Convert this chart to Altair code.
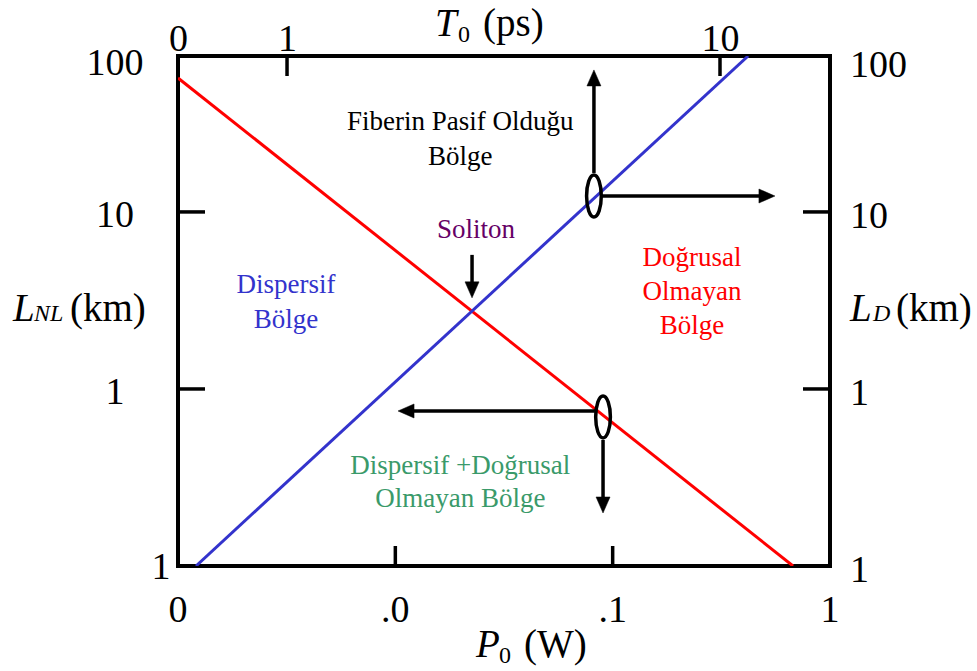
import json
import altair as alt
import pandas as pd

# ---------------- chart values ----------------
# L_NL (red) and L_D (blue) versus peak power P0
red_P0 = [0.001, 0.676]
red_L = [57.1, 0.1]
blue_P0 = [0.00121, 0.42]
blue_L = [0.1, 76.0]

# axis tick values / labels (as printed in the figure)
p0_tick_values = [0.001, 0.01, 0.1, 1.0]
p0_tick_labels = ["0", ".0", ".1", "1"]
l_tick_values = [0.1, 1.0, 10.0, 76.0]
l_tick_labels = ["1", "1", "10", "100"]
t0_tick_values = [0.56, 1.0, 10.0]
t0_tick_labels = ["0", "1", "10"]

p0_inner_ticks = [0.01, 0.1]
l_inner_ticks = [1.0, 10.0]
t0_inner_ticks = [1.0, 10.0]

# region annotations (anchored in data units)
region_text = ["Fiberin Pasif Olduğu", "Bölge", "Soliton", "Dispersif", "Bölge",
               "Doğrusal", "Olmayan", "Bölge", "Dispersif +Doğrusal", "Olmayan Bölge"]
region_P0 = [0.0199, 0.0199, 0.0235, 0.00314, 0.00314, 0.232, 0.232, 0.232, 0.0199, 0.0199]
region_L = [32.2, 20.4, 7.91, 3.87, 2.45, 5.50, 3.53, 2.27, 0.367, 0.239]
region_color = ["#000000", "#000000", "#660066", "#3333cc", "#3333cc",
                "#ff0000", "#ff0000", "#ff0000", "#3a9a6a", "#3a9a6a"]

# arrows: shaft start, shaft end, head tip, direction
arrow_P0_from = [0.0820, 0.0893, 0.0829, 0.0903, 0.02254]
arrow_L_from = [16.6, 12.3, 0.751, 0.515, 5.72]
arrow_P0_to = [0.0820, 0.502, 0.01144, 0.0903, 0.02254]
arrow_L_to = [55.7, 12.3, 0.751, 0.227, 3.72]
head_P0 = [0.0820, 0.558, 0.01029, 0.0903, 0.02254]
head_L = [63.4, 12.3, 0.751, 0.1993, 3.27]
head_angle = [0, 90, 270, 180, 180]

ellipse_P0 = [0.0820, 0.0903]
ellipse_L = [12.3, 0.695]

# ---------------- styling ----------------
FONT = "Liberation Serif, Times New Roman, serif"
TICK_FS = 38
TITLE_FS = 39
SUB_FS = 24
ANN_FS = 27

xscale = alt.Scale(type="log", domain=[0.001, 1.0])
yscale = alt.Scale(type="log", domain=[0.1, 76.0])
tscale = alt.Scale(type="log", domain=[0.56, 17.95])


def lab_expr(vals, labs):
    return f"{json.dumps(labs)}[indexof({json.dumps(vals)}, datum.value)]"


t_axis = alt.Axis(orient="top", values=t0_tick_values,
                  labelExpr=lab_expr(t0_tick_values, t0_tick_labels),
                  ticks=False, domain=False, grid=False, title=None,
                  labelFont=FONT, labelFontSize=TICK_FS, labelColor="black",
                  labelFlush=False, labelOverlap=False,
                  labelBaseline="alphabetic", labelPadding=6)


def X(field):
    return alt.X(field, type="quantitative", scale=xscale, axis=None)


def Y(field):
    return alt.Y(field, type="quantitative", scale=yscale, axis=None)


# ---------------- data frames ----------------
lines_df = pd.DataFrame({
    "series": ["LNL"] * len(red_P0) + ["LD"] * len(blue_P0),
    "P0": red_P0 + blue_P0,
    "L": red_L + blue_L,
})

lines = alt.Chart(lines_df).mark_line(strokeWidth=3, clip=True).encode(
    x=X("P0"),
    y=Y("L"),
    color=alt.Color("series:N", scale=alt.Scale(domain=["LNL", "LD"], range=["#ff0000", "#3333cc"]), legend=None),
    detail="series:N",
)

ytick_df = pd.DataFrame({"L": l_inner_ticks})
left_ticks = alt.Chart(ytick_df).mark_rule(color="black", strokeWidth=3.5).encode(
    y=Y("L"), x=alt.value(0), x2=alt.value(27))
right_ticks = alt.Chart(ytick_df).mark_rule(color="black", strokeWidth=3.5).encode(
    y=Y("L"), x=alt.value(625), x2=alt.value(652))
xtick_df = pd.DataFrame({"P0": p0_inner_ticks})
bottom_ticks = alt.Chart(xtick_df).mark_rule(color="black", strokeWidth=3.5).encode(
    x=X("P0"), y=alt.value(490), y2=alt.value(510))

# tick labels drawn through the scales
yl_df = pd.DataFrame({"L": l_tick_values, "lab": l_tick_labels})
xl_df = pd.DataFrame({"P0": p0_tick_values, "lab": p0_tick_labels})


def ylabels(flt, x, dy, align):
    return alt.Chart(yl_df).transform_filter(flt).mark_text(
        font=FONT, fontSize=TICK_FS, align=align, baseline="middle", dy=dy, color="black").encode(
        y=Y("L"), x=alt.value(x), text="lab:N")


left_labels = [
    ylabels("datum.L > 0.5 && datum.L < 50", -63, 4, "center"),
    ylabels("datum.L > 50", -63, 8, "center"),
    ylabels("datum.L < 0.5", -17, 2, "center"),
]
right_labels = [
    ylabels("datum.L < 50", 672, 5, "left"),
    ylabels("datum.L > 50", 672, 10, "left"),
]
bottom_labels = alt.Chart(xl_df).mark_text(
    font=FONT, fontSize=TICK_FS, align="center", baseline="alphabetic", color="black").encode(
    x=X("P0"), y=alt.value(566), text="lab:N")

ann_df = pd.DataFrame({"text": region_text, "P0": region_P0, "L": region_L, "color": region_color})
annotations = alt.Chart(ann_df).mark_text(font=FONT, fontSize=ANN_FS, baseline="middle", align="center").encode(
    x=X("P0"), y=Y("L"), text="text:N", color=alt.Color("color:N", scale=None))

arr_df = pd.DataFrame({"P0a": arrow_P0_from, "La": arrow_L_from, "P0b": arrow_P0_to, "Lb": arrow_L_to})
shafts = alt.Chart(arr_df).mark_rule(color="black", strokeWidth=3.5).encode(
    x=X("P0a"), y=Y("La"), x2="P0b", y2="Lb")

head_df = pd.DataFrame({"P0": head_P0, "L": head_L, "angle": head_angle})
HEAD_PATH = "M0,0 L0.875,2 L-0.875,2 Z"
heads = alt.Chart(head_df).mark_point(shape=HEAD_PATH, filled=True, fill="black", stroke="black",
                                      strokeWidth=0.5, size=256, opacity=1).encode(
    x=X("P0"), y=Y("L"), angle=alt.Angle("angle:Q", scale=None))

ELLIPSE_PATH = ("M0,-1 C0.1933,-1 0.35,-0.5523 0.35,0 C0.35,0.5523 0.1933,1 0,1 "
                "C-0.1933,1 -0.35,0.5523 -0.35,0 C-0.35,-0.5523 -0.1933,-1 0,-1 Z")
ell_df = pd.DataFrame({"P0": ellipse_P0, "L": ellipse_L})
ellipses = alt.Chart(ell_df).mark_point(shape=ELLIPSE_PATH, filled=False, stroke="black",
                                        strokeWidth=3.5, size=1764, opacity=1).encode(
    x=X("P0"), y=Y("L"))


def txt(s, x, y, size=TITLE_FS, style="normal", align="left"):
    return alt.Chart(pd.DataFrame({"t": [s]})).mark_text(
        font=FONT, fontSize=size, fontStyle=style, align=align, baseline="alphabetic",
        color="black").encode(text="t:N", x=alt.value(x), y=alt.value(y))


titles = [
    # left: L_NL (km)
    txt("L", -165, 265, style="italic"),
    txt("NL", -144, 265, size=SUB_FS, style="italic"),
    txt("(km)", -108, 265),
    # right: L_D (km)
    txt("L", 672, 265, style="italic"),
    txt("D", 695, 265, size=SUB_FS, style="italic"),
    txt("(km)", 718, 265),
    # top: T0 (ps)
    txt("T", 257, -20, style="italic"),
    txt("0", 280, -14, size=SUB_FS),
    txt("(ps)", 305, -20),
    # bottom: P0 (W)
    txt("P", 298, 601, style="italic"),
    txt("0", 321, 607, size=SUB_FS),
    txt("(W)", 346, 601),
]

main = alt.layer(lines, left_ticks, right_ticks, bottom_ticks, shafts, heads, ellipses,
                 annotations, bottom_labels, *left_labels, *right_labels, *titles)

top_df = pd.DataFrame({"T0": t0_inner_ticks})
top = alt.Chart(top_df).mark_rule(color="black", strokeWidth=3.5).encode(
    x=alt.X("T0:Q", scale=tscale, axis=t_axis), y=alt.value(0), y2=alt.value(20))

chart = alt.layer(main, top).resolve_scale(x="independent").properties(
    width=652, height=510,
    autosize=alt.AutoSizeParams(type="none"),
    padding={"left": 178, "top": 56, "right": 147, "bottom": 105},
    background="white",
).configure_view(stroke="black", strokeWidth=4)

chart.save("out.html", embed_options={"renderer": "svg", "actions": False})
